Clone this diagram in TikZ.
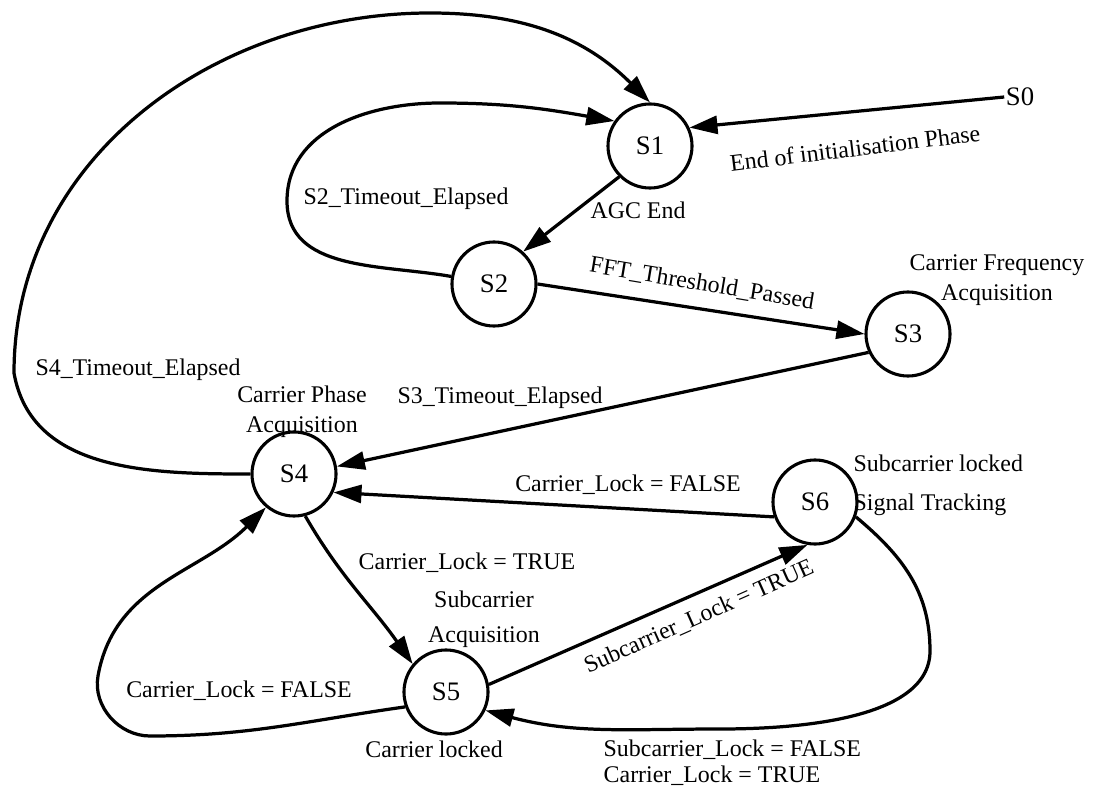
\documentclass[tikz,border=0pt]{standalone}
\usepackage{fontspec}
\setmainfont{Liberation Serif}
\usetikzlibrary{arrows.meta,positioning}

\begin{document}
\begin{tikzpicture}[
  x=0.025cm, y=0.025cm,
  state/.style={circle, draw, line width=2.2pt, minimum size=2.1cm, inner sep=0pt, font=\fontsize{19}{22}\selectfont},
  lbl/.style={inner sep=1pt, font=\fontsize{17}{21}\selectfont},
  arrow/.style={-{Triangle[length=7mm, width=4.5mm]}, line width=2.3pt}
]
\useasboundingbox (0,0) rectangle (1096,791);

% states
\node[state] (S1) at (650,645) {S1};
\node[state] (S2) at (494,507) {S2};
\node[state] (S3) at (908,457) {S3};
\node[state] (S4) at (294,317) {S4};
\node[state] (S5) at (446,99) {S5};
\node[state] (S6) at (815,289) {S6};
\node[lbl, font=\fontsize{19}{22}\selectfont] (S0) at (1020,694) {S0};

% state names and conditions
\node[lbl, rotate=7] (initEnd) at (855,643) {End of initialisation Phase};
\node[lbl] (agcEnd) at (638,581) {AGC End};
\node[lbl] (s2Timeout) at (406,592) {S2\_Timeout\_Elapsed};
\node[lbl, rotate=-9.5] (fftPassed) at (702,507) {FFT\_Threshold\_Passed};
\node[lbl, align=center] (s3Name) at (997,511) {Carrier Frequency\\Acquisition};
\node[lbl] (s3Timeout) at (500,393) {S3\_Timeout\_Elapsed};
\node[lbl] (s4Timeout) at (138,421) {S4\_Timeout\_Elapsed};
\node[lbl, align=center] (s4Name) at (302,379) {Carrier Phase\\Acquisition};
\node[lbl] (s6Lost) at (628,306) {Carrier\_Lock = FALSE};
\node[lbl, anchor=west] (s6NameA) at (852,328) {Subcarrier locked};
\node[lbl, anchor=west] (s6NameB) at (852,286) {Signal Tracking};
\node[lbl] (s4Lock) at (467,228) {Carrier\_Lock = TRUE};
\node[lbl, align=center] (s5Name) at (484,172) {Subcarrier\\[4pt]Acquisition};
\node[lbl] (s5Lost) at (239,100) {Carrier\_Lock = FALSE};
\node[lbl] (s5Note) at (434,42) {Carrier locked};
\node[lbl, rotate=24] (s5Lock) at (699,174) {Subcarrier\_Lock = TRUE};
\node[lbl, anchor=west] (s6LostA) at (602,41) {Subcarrier\_Lock = FALSE};
\node[lbl, anchor=west] (s6LostB) at (602,15) {Carrier\_Lock = TRUE};

% transitions
\draw[arrow] (S0.west) -- (S1.25);
\draw[arrow] (S1.225) -- (S2.48);
\draw[arrow] (S2.east) -- (S3.west);
\draw[arrow] (S3.205) -- (S4.10);
\draw[arrow] (S6.200) -- (S4.-25);
\draw[arrow] (S5.10) -- (S6.260);
\draw[arrow] (S4.-75) to[out=-60,in=125] (S5.140);
\draw[arrow] (S2.170) to[out=170,in=-90] (287,590) to[out=90,in=180] (440,688) to[out=0,in=170] (S1.145);
\draw[arrow] (S4.west) to[out=180,in=-80] (14,418) to[out=90,in=180] (430,778) to[out=0,in=135] (S1.north);
\draw[arrow] (S5.200) to[out=188,in=0] (150,55) to[out=180,in=-100] (98,115) to[out=80,in=225] (S4.230);
\draw[arrow] (S6.-20) to[out=-40,in=90] (930,140) to[out=-90,in=0,looseness=0.8] (720,62) to[out=180,in=-15] (S5.-25);
\end{tikzpicture}
\end{document}
